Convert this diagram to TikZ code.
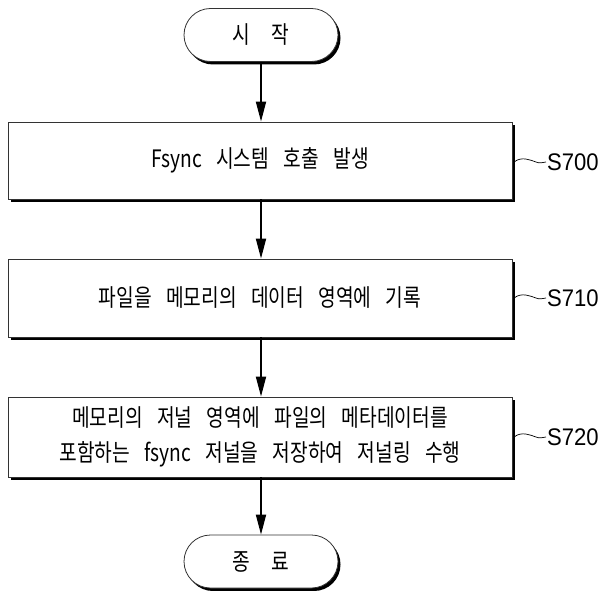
\documentclass[tikz,border=0pt]{standalone}
\usepackage{fontspec}
\newfontfamily\kr[FakeStretch=0.8]{Noto Sans CJK KR}
\newfontfamily\lab[FakeStretch=0.92]{Liberation Sans}
\usetikzlibrary{arrows.meta,shapes.misc}
\newcommand\ws{\hspace{0.6em}}
\begin{document}
\begin{tikzpicture}[x=1pt,y=1pt,
  proc/.style={draw=black!80,line width=0.8pt,fill=white,minimum width=504pt,inner sep=0pt,
    font=\kr\fontsize{24}{35}\selectfont,align=center},
  term/.style={draw=black!80,line width=0.8pt,fill=white,rounded rectangle,minimum width=154pt,
    minimum height=53pt,inner sep=0pt,font=\kr\fontsize{24}{26}\selectfont},
  shad/.style={rounded rectangle,fill=black,minimum width=154pt,minimum height=53pt,inner sep=0pt},
  flow/.style={line width=1.8pt,-{Triangle[length=20pt,width=10pt]}},
  steplab/.style={font=\lab\fontsize{24}{24}\selectfont,anchor=west,inner sep=0pt},
  tild/.style={line width=0.7pt}]
\useasboundingbox (0,0) rectangle (607,590);
% shadows
\fill[black] (11,388) rectangle (515,465);
\fill[black] (11,250) rectangle (515,328);
\fill[black] (11,110) rectangle (515,190);
\node[shad] (sh1) at (263.5,552) {};
\node[shad] (sh2) at (263.5,25.5) {};
% nodes
\node[term] (start) at (261,555) {시\hspace{0.9em}작};
\node[proc,minimum height=77pt] (s700) at (260,429.5) {Fsync\ws 시스템\ws 호출\ws 발생};
\node[proc,minimum height=78pt] (s710) at (260,292) {파일을\ws 메모리의\ws 데이터\ws 영역에\ws 기록};
\node[proc,minimum height=80pt] (s720) at (260,153) {메모리의\ws 저널\ws 영역에\ws 파일의\ws 메타데이터를\\포함하는\ws fsync\ws 저널을\ws 저장하여\ws 저널링\ws 수행};
\node[term] (end) at (261,28.5) {종\hspace{0.9em}료};
% connectors
\draw[flow] (start.south) -- (start.south |- s700.north);
\draw[flow] (start.south |- s700.south) -- (start.south |- s710.north);
\draw[flow] (start.south |- s710.south) -- (start.south |- s720.north);
\draw[flow] (start.south |- s720.south) -- (end.north);
% labels
\coordinate (t0) at (514,428);
\draw[tild] (t0) .. controls (522,434) and (530,430) .. (536,428) .. controls (540,426) and (543,428) .. (546,428);
\node[steplab] (l700) at (547,428) {S700};
\coordinate (t1) at (514,292);
\draw[tild] (t1) .. controls (522,298) and (530,294) .. (536,292) .. controls (540,290) and (543,292) .. (546,292);
\node[steplab] (l710) at (547,292) {S710};
\coordinate (t2) at (514,153);
\draw[tild] (t2) .. controls (522,159) and (530,155) .. (536,153) .. controls (540,151) and (543,153) .. (546,153);
\node[steplab] (l720) at (547,153) {S720};
\end{tikzpicture}
\end{document}
